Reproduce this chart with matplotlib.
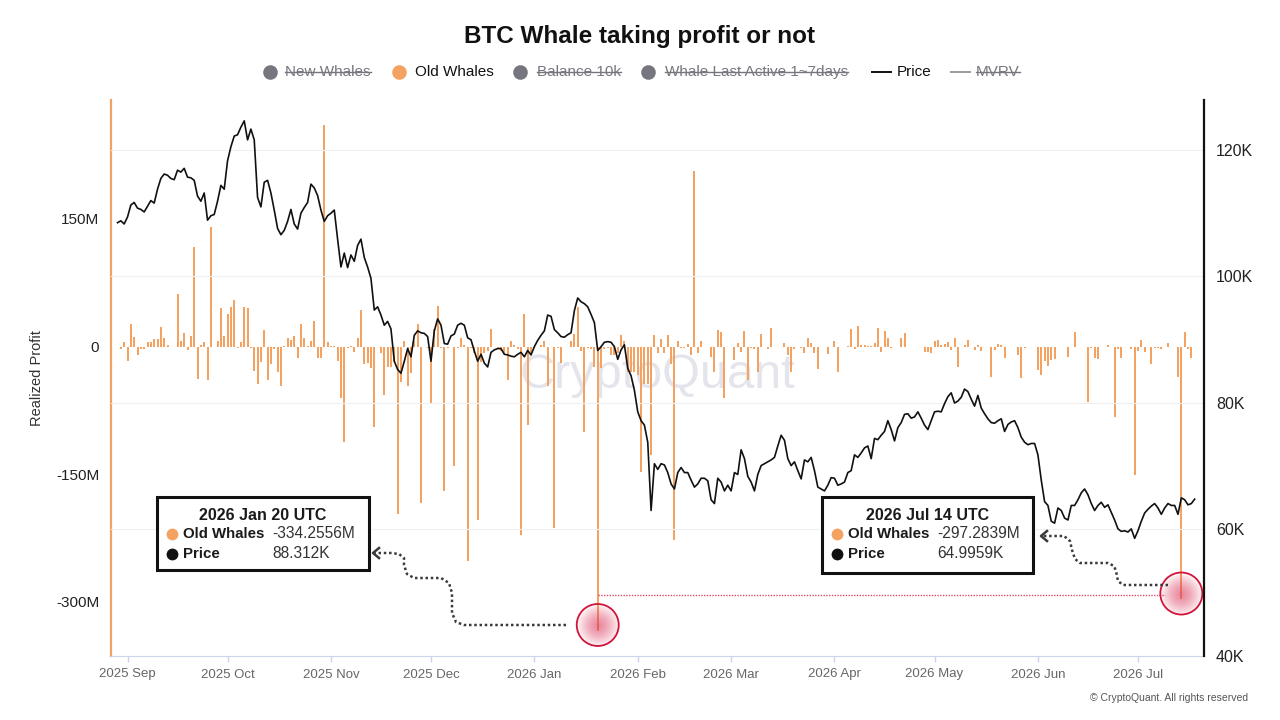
import datetime as dt
import matplotlib
matplotlib.use("Agg")
import matplotlib.pyplot as plt
from matplotlib.lines import Line2D
from matplotlib.patches import Rectangle
from matplotlib.ticker import FuncFormatter

plt.rcParams['font.family'] = ['Liberation Sans', 'DejaVu Sans']

W, H = 1280, 720

# daily data, first point 2025-08-29
first_day = dt.date(2025, 8, 29)

# BTC price (K USD)
price_k = [
    108.5, 108.8, 108.3, 109.4, 111.3, 111.7, 110.8, 110.6, 110.2, 111.1,
    112.0, 111.6, 113.8, 115.5, 116.2, 116.0, 115.5, 115.3, 116.8, 116.5,
    117.1, 115.7, 115.6, 115.2, 112.7, 111.9, 113.2, 108.9, 109.6, 109.8,
    111.9, 114.4, 113.8, 118.3, 120.5, 122.2, 122.4, 123.6, 124.6, 121.6,
    123.3, 121.6, 112.5, 111.0, 114.9, 115.2, 113.2, 110.5, 107.6, 106.6,
    107.3, 108.7, 110.6, 108.3, 107.5, 110.0, 110.9, 111.7, 114.6, 114.0,
    112.8, 110.5, 108.7, 109.6, 110.0, 110.5, 105.9, 101.5, 103.7, 101.4,
    103.4, 102.4, 104.9, 105.9, 103.0, 101.5, 99.7, 94.7, 95.2, 93.9,
    92.3, 92.9,
    91.7, 86.6, 85.3, 84.7, 86.6, 88.6, 87.3, 90.7, 91.4, 91.1,
    91.0, 90.5, 86.6, 91.4, 93.3, 92.3, 89.4, 89.3, 90.6, 90.9,
    92.3, 92.6, 92.3, 90.3, 90.0, 88.2, 86.6, 87.7, 86.3, 85.7,
    88.0, 88.4, 88.6, 88.6, 87.7, 87.6, 87.4, 87.3, 87.7, 88.0,
    87.3, 88.3, 87.6, 88.9, 89.9, 90.7, 91.4, 93.9, 93.7, 91.6,
    91.1, 90.5, 90.4, 90.8, 91.1, 94.6, 96.6, 96.0, 95.7, 95.2,
    94.0, 92.7, 88.3, 88.9, 89.6, 89.7, 89.6, 88.9, 86.9, 88.4,
    89.2, 85.5, 84.3, 82.0, 78.6, 77.2, 76.5, 73.8, 63.0, 70.4,
    69.5,
    70.4, 70.2, 69.0, 67.2, 66.4, 69.0, 69.8, 69.0, 69.0, 67.8,
    66.7, 67.2, 68.1, 68.1, 67.7, 64.7, 64.1, 68.1, 67.5, 66.1,
    67.0, 66.1, 69.0, 68.7, 72.6, 71.2, 68.4, 67.5, 66.1, 68.7,
    70.1, 70.4, 70.7, 71.0, 71.4, 73.2, 74.9, 74.1, 71.2, 70.1,
    70.7, 69.3, 68.0, 71.0, 70.7, 71.4, 69.3, 66.7, 66.4, 66.1,
    67.0, 68.2, 68.1, 67.0, 67.2, 67.5, 69.0, 69.3, 71.8, 71.4,
    72.1, 72.9, 73.2, 71.2, 74.4, 74.2, 74.9, 75.5, 77.2, 75.8,
    74.0, 76.1, 76.9, 78.2, 78.3, 77.6, 77.8, 78.6, 77.6, 76.5,
    75.8,
    77.2, 78.6, 78.7, 78.6, 79.9, 81.0, 81.6, 80.0, 80.3, 80.9,
    82.2, 81.8, 80.6, 79.5, 81.2, 79.2, 78.3, 77.5, 76.9, 76.8,
    77.2, 77.5, 75.5, 76.6, 77.0, 77.2, 76.1, 74.6, 73.8, 73.4,
    73.6, 73.6, 71.8, 67.8, 64.4, 63.8, 61.3, 61.0, 63.4, 63.0,
    61.8, 61.5, 63.8, 63.8, 64.7, 65.8, 66.4, 65.5, 64.1, 63.0,
    63.8, 64.3, 63.5, 63.9, 62.7, 61.5, 60.1, 59.7, 59.8, 59.6,
    60.1, 58.6, 59.8, 61.3, 62.6, 63.2, 63.7, 64.1, 63.4, 62.4,
    63.4, 64.1, 63.8, 63.8, 62.4, 65.0, 64.7, 63.9, 64.1, 64.8,
]

# Old Whales realized profit (M USD)
old_whales_m = [
    -1, -2.5, 5.5, -17, 26, 11, -10, -3, -3, 5,
    5, 9, 9, 23, 10, 2, -1, -1, 62, 6,
    16, -4, 12, 117, -38, 2, 5, -39, 140, -1,
    7, 45, 12, 38, 46, 55, -2, 5, 46, 45,
    -2, -29, -44, -18, 19, -39, -21, -3, -30, -46,
    1, 10, 8, 12, -14, 26, 10, 1, 7, 30,
    -13, -13, 260, 5, 1, 1, -17, -61, -112, -2,
    1, -7, 10, 43, -20, -19, -25, -95, -1, -8,
    -57, -24, -24, -18, -197, -42, 7, -46, -31, 6,
    27, -184, -1, -2, -67, 20, 48, -2, -170, -2,
    -1, -140, -2, 10, 2, -252, -2, -8, -204, -18,
    -8, -5, 21, 0, -2, -5, -8, -39, 6, 2,
    -3, -222, 38, -92, -8, -2, -1, 2, 6, -46,
    -1, -213, -2, -19, -1, -1, 7, 15, 46, -5,
    -100, -2, -3, -24, -334.2556, -25, -3, -2, -10, -10,
    -8, 14, 7, -30, -30, -30, -34, -148, -44, -44,
    -127, 14, -8, 9, -8, 14, -20, -227, 7, -2,
    -2, 3, -10, 206, -8, 7, 0, -1, -12, -30,
    19, 17, -60, -1, 0, -16, 4, -6, 18, -39,
    -2, -3, -30, 15, -1, -3, 22, 0, -1, -1,
    4, -10, -30, -3, -1, -2, -8, 10, 4, -8,
    -26, -1, 0, -9, -1, 7, -30, -1, 0, 1,
    20, -3, 24, 2, 2, 1, 1, 4, 22, -7,
    18, 10, -2, -1, -1, 10, 16, -1, 0, 0,
    0, 0, -7, -6, -8, 7, 8, 2, 3, 5,
    -4, 10, -24, 0, 2, 8, 0, -4, 2, -5,
    0, 0, -36, -4, 3, 2, -14, 0, 0, 0,
    -10, -37, -2, 0, -1, 0, -28, -34, -17, -23,
    -16, -15, -1, 0, -1, -12, 0, 17, -1, 0,
    -1, -65, -2, -13, -15, 0, 0, 2, -1, -83,
    -3, -13, -1, -1, -3, -151, -5, 8, -6, 0,
    -20, -2, -2, -3, 0, 4, 0, 0, -36, -297.2839,
    17, -3, -14, 0,
]

days = [first_day + dt.timedelta(days=i) for i in range(len(price_k))]

left_ticks = [150, 0, -150, -300]
right_ticks = [40, 60, 80, 100, 120]
month_ticks = [dt.date(2025 + (8 + i) // 12, (8 + i) % 12 + 1, 1) for i in range(11)]
month_labels = [d.strftime('%Y %b') for d in month_ticks]

legend_items = ['New Whales', 'Old Whales', 'Balance 10k', 'Whale Last Active 1~7days', 'Price', 'MVRV']

# highlighted days for the callouts
jan20 = dt.date(2026, 1, 20)
jul14 = dt.date(2026, 7, 14)
tip_jan = ['2026 Jan 20 UTC', '-334.2556M', '88.312K']
tip_jul = ['2026 Jul 14 UTC', '-297.2839M', '64.9959K']
guide_level_m = -292

orange = '#F4A261'
gray = '#76767f'


def fx(x):
    return x / W


def fy(y):
    return 1 - y / H


fig = plt.figure(figsize=(12.8, 7.2), dpi=100)
ax = fig.add_axes([fx(111), fy(656), (1204 - 111) / W, (656 - 100) / H])
ax2 = ax.twinx()

ax.bar(days, old_whales_m, width=0.6, color=orange, zorder=2)
ax2.plot(days, price_k, color='#111111', lw=1.2, zorder=3)

sep1 = dt.datetime(2025, 9, 1)
ax.set_xlim(sep1 - dt.timedelta(days=4.95), sep1 + dt.timedelta(days=322.8))
ax.set_ylim(-363.7, 289.7)
ax2.set_ylim(40, 127.9)

ax.set_yticks(left_ticks)
ax.yaxis.set_major_formatter(FuncFormatter(lambda v, p: '0' if v == 0 else f'{int(v)}M'))
ax2.set_yticks(right_ticks)
ax2.yaxis.set_major_formatter(FuncFormatter(lambda v, p: f'{int(v)}K'))
ax.set_xticks(month_ticks)
ax.set_xticklabels(month_labels)

ax.tick_params(axis='x', length=4, width=1, color='#ccd6eb', labelcolor='#666666', labelsize=9.5, pad=5)
ax.tick_params(axis='y', length=0, pad=8.5, labelsize=11, labelcolor='#222222')
ax2.tick_params(axis='y', length=0, pad=8.5, labelsize=11.5, labelcolor='#222222')
ax2.grid(axis='y', color='#f0f0f0', lw=0.8)

for s in ['top', 'right']:
    ax.spines[s].set_visible(False)
ax.spines['left'].set_color(orange)
ax.spines['left'].set_linewidth(1.6)
ax.spines['bottom'].set_color('#ccd6eb')
for s in ['top', 'left', 'bottom']:
    ax2.spines[s].set_visible(False)
ax2.spines['right'].set_color('#111111')
ax2.spines['right'].set_linewidth(1.6)

# watermark
ax.text(fx(657), fy(376), 'CryptoQuant', transform=fig.transFigure, ha='center', va='center',
        fontsize=35, color='#e4e4ec', zorder=0.5)

# title, axis label, credit
fig.text(0.5, fy(37), 'BTC Whale taking profit or not', ha='center', va='center',
         fontsize=17.5, fontweight='bold', color='#111111')
fig.text(fx(37), fy(378), 'Realized Profit', rotation=90, ha='center', va='center',
         fontsize=10.5, color='#333333')
fig.text(fx(1248), fy(698), '\u00a9 CryptoQuant. All rights reserved', ha='right', va='center',
         fontsize=7.5, color='#555555')

# legend
leg_y = fy(72)
leg_pos = [(270, 285), (399, 415), (520, 537), (648, 665), (872, 897), (951, 976)]
strike_texts = []
for i, name in enumerate(legend_items):
    mx, tx = leg_pos[i]
    hidden = name not in ('Old Whales', 'Price')
    col = gray if hidden else '#111111'
    if name in ('Price', 'MVRV'):
        fig.add_artist(Line2D([fx(mx), fx(mx + 19)], [leg_y, leg_y], color='#111111' if name == 'Price' else '#9a9aa2',
                              lw=1.4, transform=fig.transFigure))
    else:
        fig.add_artist(Line2D([fx(mx)], [leg_y], marker='o', ms=10.5, mew=0,
                              color=orange if name == 'Old Whales' else gray, transform=fig.transFigure))
    t = fig.text(fx(tx), leg_y, name, ha='left', va='center', fontsize=11, color=col)
    if hidden:
        strike_texts.append(t)

# red guide line between the two days
ax.plot([jan20, jul14 - dt.timedelta(days=5)], [guide_level_m, guide_level_m], color='#e04a6a',
        lw=1.0, ls=(0, (1, 1)), zorder=4)

# highlight circles at the bar ends
for day, val in [(jan20, -334.2556), (jul14, -297.2839)]:
    for k in range(12):
        r = 21 * (1 - k / 12)
        ax.scatter([day], [val + 7], s=(r * 1.44) ** 2, color='#e03a60', alpha=0.07, lw=0, zorder=5)
    ax.scatter([day], [val + 7], s=(21 * 1.44) ** 2, facecolor='none', edgecolor='#d0143c', lw=1.3, zorder=6)


def tooltip(left, top, width, height, info):
    fig.add_artist(Rectangle((fx(left), fy(top + height)), width / W, height / H, transform=fig.transFigure,
                             facecolor='white', edgecolor='#111111', lw=2.2, zorder=5))
    fig.text(fx(left + width / 2), fy(top + 18), info[0], ha='center', va='center', fontsize=11.5,
             fontweight='bold', color='#1a1a1a', zorder=6)
    rows = [('Old Whales', orange, info[1]), ('Price', '#111111', info[2])]
    for i, (name, c, val) in enumerate(rows):
        y = fy(top + 37 + 20 * i)
        fig.add_artist(Line2D([fx(left + 15)], [y], marker='o', ms=8.5, mew=0, color=c,
                              transform=fig.transFigure, zorder=6))
        fig.text(fx(left + 26), y, name, ha='left', va='center', fontsize=10.8, fontweight='bold',
                 color='#1a1a1a', zorder=6)
        fig.text(fx(left + 115), y, val, ha='left', va='center', fontsize=11.2, color='#333333', zorder=6)


tooltip(157, 497, 212, 73, tip_jan)
tooltip(822, 497, 211, 76, tip_jul)


def dotted_arrow(pts):
    xs = [fx(p[0]) for p in pts]
    ys = [fy(p[1]) for p in pts]
    fig.add_artist(Line2D(xs, ys, color='#3a3a3a', lw=1.8, ls=(0, (1, 1.1)), transform=fig.transFigure))
    tx, ty = pts[-1]
    fig.add_artist(Line2D([fx(tx + 5), fx(tx - 1), fx(tx + 5)], [fy(ty - 5), fy(ty), fy(ty + 5)],
                          color='#3a3a3a', lw=1.8, transform=fig.transFigure))


dotted_arrow([(566, 625), (464, 625), (456, 622), (452, 613), (452, 593), (449, 583), (441, 578),
              (414, 578), (407, 574), (404, 565), (404, 558), (399, 554), (391, 553), (374, 553)])
dotted_arrow([(1168, 585), (1123, 585), (1118, 581), (1116, 571), (1114, 566), (1108, 563), (1080, 563),
              (1075, 559), (1072, 550), (1070, 541), (1064, 536), (1042, 536)])

# strike through the hidden legend entries
fig.canvas.draw()
for t in strike_texts:
    bb = t.get_window_extent()
    ymid = (bb.y0 + bb.y1) / 2 / H + 0.5 / H
    fig.add_artist(Line2D([bb.x0 / W, bb.x1 / W], [ymid, ymid], color=gray, lw=1.0,
                          transform=fig.transFigure))

fig.savefig('out.png', dpi=100)
